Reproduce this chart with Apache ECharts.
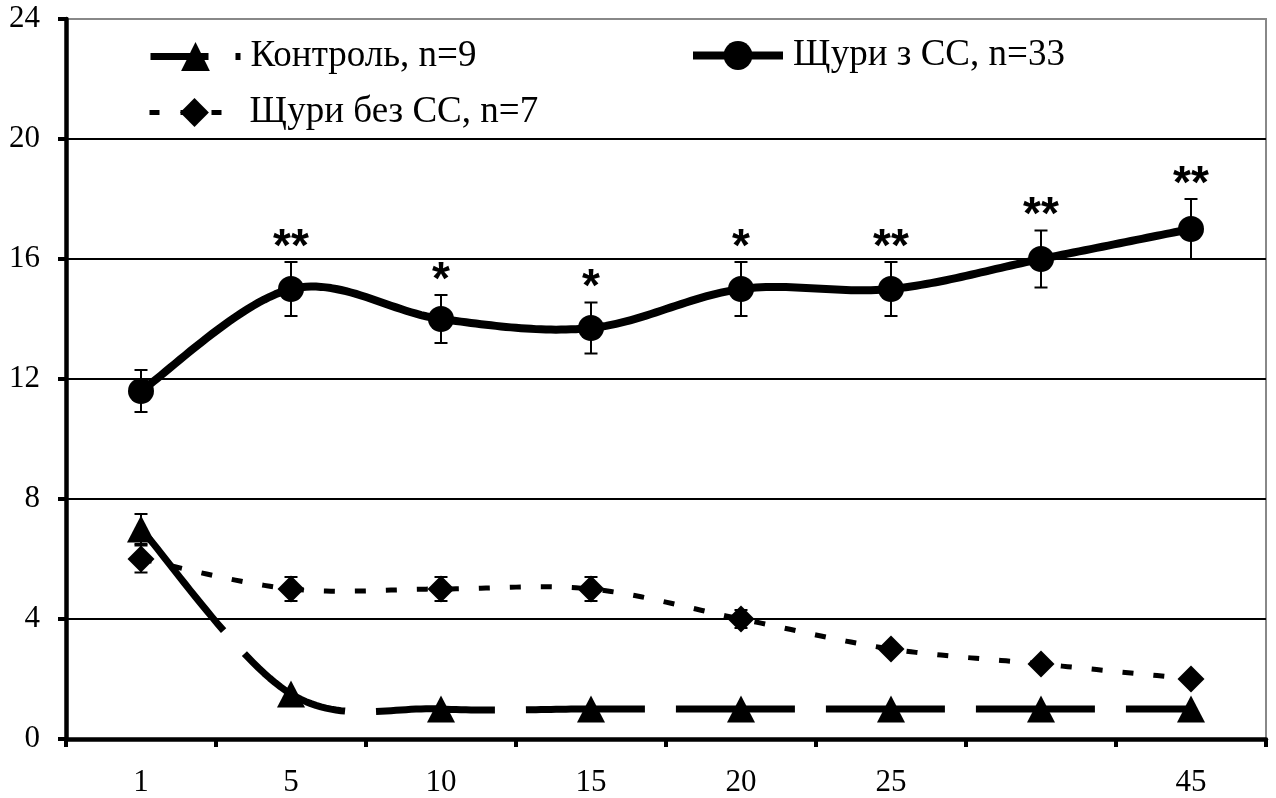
<!DOCTYPE html>
<html><head><meta charset="utf-8">
<script src="https://cdn.jsdelivr.net/npm/echarts@6/dist/echarts.min.js"></script>
<style>html,body{margin:0;padding:0;background:#fff}#c{width:1276px;height:798px}</style>
</head><body><div id="c"></div>
<script>
const categories = ['1','5','10','15','20','25','','45'];
const ctrlName = 'Контроль, n=9';
const ctrlValues = [7, 1.5, 1, 1, 1, 1, 1, 1];
const ctrlErr = [0.5, 0, 0, 0, 0, 0, 0, 0];
const withName = 'Щури з СС, n=33';
const withValues = [11.6, 15, 14, 13.7, 15, 15, 16, 17];
const withErr = [0.7, 0.9, 0.8, 0.85, 0.9, 0.9, 0.95, 1.0];
const withStars = ['', '**', '*', '*', '*', '**', '**', '**'];
const withoutName = 'Щури без СС, n=7';
const withoutValues = [6, 5, 5, 5, 4, 3, 2.5, 2];
const withoutErr = [0.45, 0.4, 0.4, 0.4, 0.3, 0, 0, 0];
const yMin = 0, yMax = 24, yStep = 4;

const SERIF = '"Liberation Serif", "Times New Roman", serif';

function makeErr(vals, errs, stars) {
  return {
    type: 'custom', z: 1, silent: true,
    data: vals.map((v, i) => [i, v, errs[i]]),
    renderItem(params, api) {
      const i = api.value(0), v = api.value(1), e = api.value(2);
      const top = api.coord([i, v + e]);
      const bot = api.coord([i, v - e]);
      const ch = [];
      const cw = 6.5;
      const st = { stroke: '#000', lineWidth: 2 };
      if (e > 0) {
        ch.push({ type: 'line', shape: { x1: top[0], y1: top[1], x2: bot[0], y2: bot[1] }, style: st });
        ch.push({ type: 'line', shape: { x1: top[0] - cw, y1: top[1], x2: top[0] + cw, y2: top[1] }, style: st });
        ch.push({ type: 'line', shape: { x1: bot[0] - cw, y1: bot[1], x2: bot[0] + cw, y2: bot[1] }, style: st });
      }
      const s = stars && stars[params.dataIndex];
      if (s) {
        ch.push({ type: 'text', x: top[0], y: top[1] + 9,
          style: { text: s, font: 'bold 46px "Liberation Sans", Arial, sans-serif', fill: '#000', align: 'center', verticalAlign: 'bottom' } });
      }
      return { type: 'group', children: ch };
    }
  };
}

// Excel-like (Catmull-Rom) smoothed curve, drawn through the chart's scales
function makeCurve(vals, style) {
  return {
    type: 'custom', z: 2, silent: true,
    data: vals.map((v, i) => [i, v]),
    renderItem(params, api) {
      if (params.dataIndex !== 0) return null;
      const p = vals.map((v, i) => api.coord([i, v]));
      const out = [];
      for (let i = 0; i < p.length - 1; i++) {
        const p0 = p[i - 1] || p[i], p1 = p[i], p2 = p[i + 1], p3 = p[i + 2] || p[i + 1];
        const c1 = [p1[0] + (p2[0] - p0[0]) / 6, p1[1] + (p2[1] - p0[1]) / 6];
        const c2 = [p2[0] - (p3[0] - p1[0]) / 6, p2[1] - (p3[1] - p1[1]) / 6];
        const N = 30;
        for (let k = (i === 0 ? 0 : 1); k <= N; k++) {
          const t = k / N, u = 1 - t;
          out.push([
            u*u*u*p1[0] + 3*u*u*t*c1[0] + 3*u*t*t*c2[0] + t*t*t*p2[0],
            u*u*u*p1[1] + 3*u*u*t*c1[1] + 3*u*t*t*c2[1] + t*t*t*p2[1]
          ]);
        }
      }
      return { type: 'polyline', shape: { points: out }, style: Object.assign({ fill: null, stroke: '#000', lineJoin: 'round' }, style) };
    }
  };
}

const chart = echarts.init(document.getElementById('c'), null, { renderer: 'canvas' });
const legendText = { fontFamily: SERIF, fontSize: 37, color: '#000', padding: [0, 0, 0, 5] };
function legendCfg(name, left, top, lineStyle) {
  return { data: [name], left, top, padding: 0, itemWidth: 90, itemHeight: 36, itemGap: 10,
    textStyle: legendText, lineStyle: Object.assign({ color: '#000', opacity: 1 }, lineStyle),
    itemStyle: { color: '#000' } };
}
chart.setOption({
  animation: false,
  backgroundColor: '#fff',
  grid: { left: 66, right: 10, top: 19, bottom: 58, show: true, borderColor: '#888', borderWidth: 2, backgroundColor: 'transparent' },
  legend: [
    legendCfg(ctrlName, 147, 38, { width: 7, type: [58, 27, 5, 100] }),
    legendCfg(withName, 689, 37, { width: 8, type: 'solid' }),
    legendCfg(withoutName, 147, 94, { width: 5, type: [10, 21] })
  ],
  xAxis: {
    type: 'category', data: categories, boundaryGap: true,
    axisLine: { lineStyle: { color: '#000', width: 4.5 } },
    axisTick: { show: true, inside: false, length: 8, alignWithLabel: false, lineStyle: { color: '#000', width: 4 } },
    axisLabel: { fontFamily: SERIF, fontSize: 31, color: '#000', margin: 28 },
    splitLine: { show: false }
  },
  yAxis: {
    type: 'value', min: yMin, max: yMax, interval: yStep,
    axisLine: { show: true, lineStyle: { color: '#000', width: 4.5 } },
    axisTick: { show: true, inside: false, length: 8, lineStyle: { color: '#000', width: 4 } },
    axisLabel: { fontFamily: SERIF, fontSize: 31, color: '#000', margin: 26 },
    splitLine: { show: true, showMaxLine: false, showMinLine: false, lineStyle: { color: '#000', width: 2 } }
  },
  series: [
    makeErr(ctrlValues, ctrlErr, null),
    makeErr(withoutValues, withoutErr, null),
    makeErr(withValues, withErr, withStars),
    makeCurve(ctrlValues, { lineWidth: 7, lineDash: [119, 31], lineDashOffset: 138, lineCap: 'butt' }),
    makeCurve(withValues, { lineWidth: 8 }),
    makeCurve(withoutValues, { lineWidth: 5, lineDash: [11, 20], lineCap: 'butt' }),
    {
      name: ctrlName, type: 'line', data: ctrlValues, z: 4,
      symbol: 'triangle', symbolSize: [28, 27],
      itemStyle: { color: '#000' },
      lineStyle: { color: '#000', width: 0, opacity: 0 }
    },
    {
      name: withName, type: 'line', data: withValues, z: 4,
      symbol: 'circle', symbolSize: 26,
      itemStyle: { color: '#000' },
      lineStyle: { color: '#000', width: 0, opacity: 0 }
    },
    {
      name: withoutName, type: 'line', data: withoutValues, z: 4,
      symbol: 'diamond', symbolSize: [27, 27],
      itemStyle: { color: '#000' },
      lineStyle: { color: '#000', width: 0, opacity: 0 }
    }
  ]
});
</script>
</body></html>
